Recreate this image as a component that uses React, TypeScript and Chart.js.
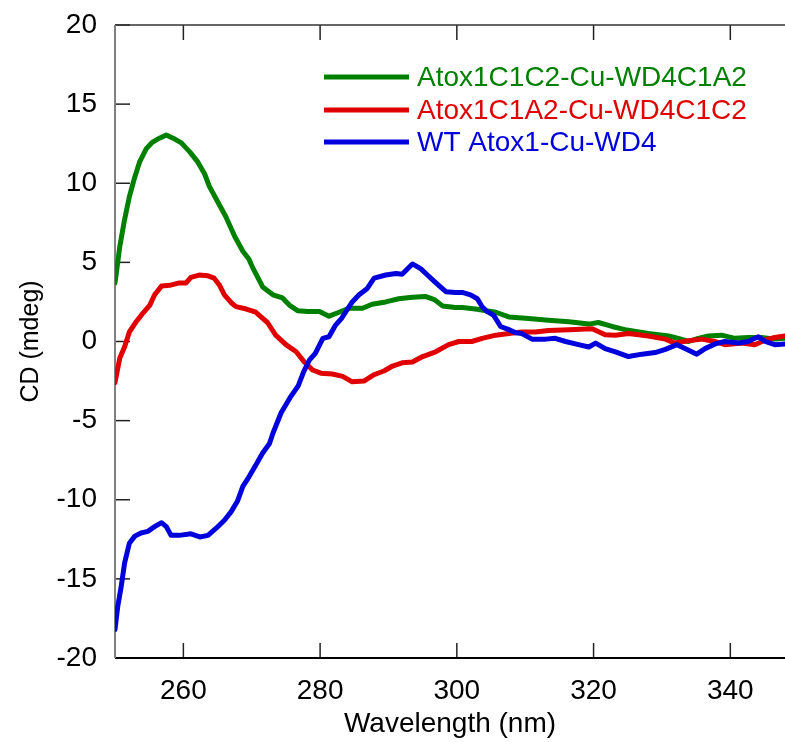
import React, { useEffect, useRef } from 'react';
import { Chart, registerables } from 'chart.js';

Chart.register(...registerables);

const xTicks = [260, 280, 300, 320, 340];
const yTicks = [-20, -15, -10, -5, 0, 5, 10, 15, 20];

const seriesLabels = ['Atox1C1C2-Cu-WD4C1A2', 'Atox1C1A2-Cu-WD4C1C2', 'WT Atox1-Cu-WD4'];
const seriesColors = ['#008000', '#e00000', '#0000dd'];

const greenNm = [250.0, 250.7, 251.4, 252.1, 252.9, 253.6, 254.6, 255.5, 256.5, 257.5, 258.5, 259.7, 260.9, 262.1, 263.1, 263.8, 265.0, 266.2, 267.5, 268.7, 269.6, 270.1, 271.6, 273.1, 274.5, 275.5, 276.7, 278.2, 279.9, 281.3, 282.5, 284.2, 286.2, 287.6, 289.6, 291.5, 293.5, 295.4, 296.7, 297.9, 299.8, 300.8, 302.7, 305.7, 307.6, 310.5, 313.4, 316.4, 319.3, 320.7, 322.7, 324.6, 328.0, 331.0, 332.4, 333.9, 335.3, 336.8, 338.7, 340.7, 342.6, 344.6, 346.5, 348.0];
const greenCd = [3.7, 6.0, 7.7, 9.15, 10.4, 11.35, 12.2, 12.6, 12.85, 13.05, 12.85, 12.55, 12.0, 11.35, 10.6, 9.8, 8.85, 7.9, 6.65, 5.7, 5.2, 4.7, 3.45, 2.95, 2.75, 2.3, 1.95, 1.9, 1.9, 1.6, 1.8, 2.1, 2.1, 2.35, 2.5, 2.7, 2.8, 2.85, 2.65, 2.25, 2.15, 2.15, 2.05, 1.85, 1.55, 1.45, 1.35, 1.25, 1.1, 1.2, 0.95, 0.75, 0.5, 0.35, 0.2, 0.0, 0.2, 0.35, 0.4, 0.2, 0.25, 0.25, 0.15, 0.2];

const redNm = [250.0, 250.7, 251.4, 252.1, 253.1, 254.1, 255.1, 255.8, 256.8, 258.0, 259.4, 260.4, 261.1, 262.3, 263.6, 264.5, 265.3, 266.0, 267.0, 267.7, 269.2, 270.6, 271.1, 272.3, 273.5, 275.0, 276.5, 277.7, 278.9, 280.1, 281.8, 283.3, 284.7, 286.4, 287.9, 289.4, 290.6, 292.0, 293.5, 295.0, 296.9, 298.8, 300.3, 302.2, 303.7, 305.7, 307.6, 309.5, 311.5, 313.4, 316.4, 319.8, 321.7, 323.2, 325.1, 328.0, 330.5, 331.9, 333.9, 335.8, 337.8, 339.2, 341.7, 343.6, 345.1, 346.5, 348.0];
const redCd = [-2.6, -1.05, -0.35, 0.6, 1.25, 1.8, 2.3, 2.95, 3.5, 3.55, 3.7, 3.7, 4.05, 4.2, 4.15, 4.0, 3.55, 2.95, 2.45, 2.2, 2.05, 1.85, 1.65, 1.2, 0.4, -0.2, -0.65, -1.3, -1.8, -2.0, -2.05, -2.2, -2.55, -2.5, -2.1, -1.85, -1.55, -1.35, -1.3, -0.95, -0.65, -0.2, 0.0, 0.0, 0.2, 0.4, 0.5, 0.6, 0.6, 0.7, 0.75, 0.8, 0.42, 0.4, 0.5, 0.35, 0.15, -0.1, 0.05, 0.15, 0.0, -0.2, -0.1, -0.2, 0.1, 0.25, 0.35];

const blueNm = [250.0, 250.4, 250.9, 251.4, 252.1, 252.9, 253.8, 254.8, 255.8, 256.8, 257.5, 258.2, 259.4, 261.1, 262.4, 263.6, 264.8, 266.0, 267.0, 267.9, 268.7, 269.6, 270.6, 271.6, 272.6, 273.1, 274.3, 275.6, 276.8, 277.6, 278.4, 279.3, 280.4, 281.3, 282.2, 283.2, 284.7, 285.7, 286.9, 287.9, 289.6, 291.1, 292.0, 292.8, 293.5, 294.7, 295.7, 296.7, 297.6, 298.4, 299.8, 300.8, 302.0, 303.0, 303.7, 304.4, 305.4, 306.4, 307.6, 308.6, 309.5, 311.0, 313.0, 314.4, 315.9, 317.8, 319.3, 320.3, 321.7, 323.2, 325.1, 327.1, 329.0, 330.5, 332.2, 333.9, 335.1, 336.3, 337.8, 339.2, 341.2, 342.6, 344.1, 345.1, 346.5, 348.0];
const blueCd = [-18.2, -16.75, -15.5, -14.0, -12.75, -12.3, -12.1, -12.0, -11.7, -11.45, -11.7, -12.25, -12.25, -12.15, -12.35, -12.25, -11.8, -11.3, -10.75, -10.1, -9.15, -8.55, -7.8, -7.05, -6.45, -5.8, -4.5, -3.55, -2.8, -1.9, -1.2, -0.75, 0.2, 0.3, 1.0, 1.5, 2.5, 2.95, 3.35, 4.0, 4.2, 4.3, 4.25, 4.6, 4.9, 4.6, 4.2, 3.8, 3.45, 3.15, 3.1, 3.1, 2.95, 2.7, 2.2, 1.9, 1.65, 0.95, 0.75, 0.55, 0.5, 0.15, 0.15, 0.2, 0.0, -0.2, -0.35, -0.1, -0.45, -0.65, -0.95, -0.8, -0.7, -0.5, -0.2, -0.55, -0.8, -0.45, -0.15, 0.0, -0.1, 0.0, 0.3, 0.0, -0.2, -0.15];

const FONT_FAMILY = '"Liberation Sans", Arial, Helvetica, sans-serif';

const framePlugin = {
  id: 'frame',
  beforeDatasetsDraw(chart: any) {
    const { ctx, chartArea, scales } = chart;
    const { left, right, top, bottom } = chartArea;
    const x = scales.x;
    const y = scales.y;
    const line = (x1: number, y1: number, x2: number, y2: number) => {
      ctx.beginPath();
      ctx.moveTo(x1, y1);
      ctx.lineTo(x2, y2);
      ctx.stroke();
    };
    ctx.save();
    ctx.lineWidth = 1.5;
    ctx.strokeStyle = '#222';
    for (const t of x.ticks) {
      const px = x.getPixelForValue(t.value);
      line(px, bottom, px, bottom - 15);
      line(px, top, px, top + 15);
    }
    for (const t of y.ticks) {
      const py = y.getPixelForValue(t.value);
      line(left, py, left + 15, py);
    }
    ctx.strokeStyle = '#333';
    line(left, top, right, top);
    ctx.lineWidth = 2;
    ctx.strokeStyle = '#000';
    line(left, bottom, right, bottom);
    ctx.strokeStyle = '#808080';
    line(left, top, left, bottom);
    ctx.restore();
  },
};

const legendPlugin = {
  id: 'customLegend',
  afterDraw(chart: any) {
    const { ctx } = chart;
    const rows = [77, 110, 142];
    ctx.save();
    ctx.font = `28px ${FONT_FAMILY}`;
    ctx.textBaseline = 'middle';
    ctx.textAlign = 'left';
    seriesLabels.forEach((label, i) => {
      ctx.strokeStyle = seriesColors[i];
      ctx.lineWidth = 5;
      ctx.beginPath();
      ctx.moveTo(324, rows[i]);
      ctx.lineTo(409, rows[i]);
      ctx.stroke();
      ctx.fillStyle = seriesColors[i];
      ctx.fillText(label, 417, rows[i] + 1);
    });
    ctx.restore();
  },
};

const pair = (nm: number[], cd: number[]) => nm.map((v, i) => ({ x: v, y: cd[i] }));

export default function App() {
  const ref = useRef<HTMLCanvasElement>(null);
  useEffect(() => {
    document.body.style.margin = '0';
    const canvas = ref.current;
    if (!canvas) return;
    const tickFont = { family: FONT_FAMILY, size: 28 };
    const chart = new Chart(canvas, {
      type: 'line',
      data: {
        datasets: [
          { label: seriesLabels[0], data: pair(greenNm, greenCd), borderColor: seriesColors[0], order: 2 },
          { label: seriesLabels[1], data: pair(redNm, redCd), borderColor: seriesColors[1], order: 1 },
          { label: seriesLabels[2], data: pair(blueNm, blueCd), borderColor: seriesColors[2], order: 0 },
        ],
      },
      options: {
        animation: false,
        responsive: false,
        maintainAspectRatio: false,
        devicePixelRatio: 1,
        layout: { padding: { top: 25, right: 0, left: 0, bottom: 0 } },
        plugins: { legend: { display: false }, tooltip: { enabled: false } },
        elements: {
          point: { radius: 0 },
          line: { tension: 0, borderWidth: 5, borderJoinStyle: 'round', borderCapStyle: 'round', fill: false },
        },
        scales: {
          x: {
            type: 'linear',
            min: 250,
            max: 348,
            afterBuildTicks: (s: any) => {
              s.ticks = xTicks.map((v) => ({ value: v }));
            },
            afterFit: (s: any) => {
              s.height = 84;
              s.paddingLeft = 0;
              s.paddingRight = 0;
              s.paddingTop = 0;
              s.paddingBottom = 0;
            },
            grid: { display: false, drawTicks: false },
            border: { display: false },
            ticks: { padding: 16, font: tickFont, color: '#000', maxRotation: 0, autoSkip: false },
            title: {
              display: true,
              text: 'Wavelength (nm)',
              font: { family: FONT_FAMILY, size: 28 },
              color: '#000',
              padding: { top: 0, bottom: 1 },
            },
          },
          y: {
            type: 'linear',
            min: -20,
            max: 20,
            afterBuildTicks: (s: any) => {
              s.ticks = yTicks.map((v) => ({ value: v }));
            },
            afterFit: (s: any) => {
              s.width = 115;
              s.paddingTop = 0;
              s.paddingBottom = 0;
              s.paddingLeft = 0;
              s.paddingRight = 0;
            },
            grid: { display: false, drawTicks: false },
            border: { display: false },
            ticks: { padding: 18, font: tickFont, color: '#000', autoSkip: false },
            title: {
              display: true,
              text: 'CD (mdeg)',
              font: { family: FONT_FAMILY, size: 25 },
              color: '#000',
              padding: { top: 16, bottom: 0 },
            },
          },
        },
      },
      plugins: [framePlugin, legendPlugin],
    } as any);
    return () => chart.destroy();
  }, []);
  return (
    <div style={{ position: 'absolute', left: 0, top: 0, width: 785, height: 742 }}>
      <canvas ref={ref} width={785} height={742} style={{ display: 'block' }} />
    </div>
  );
}
